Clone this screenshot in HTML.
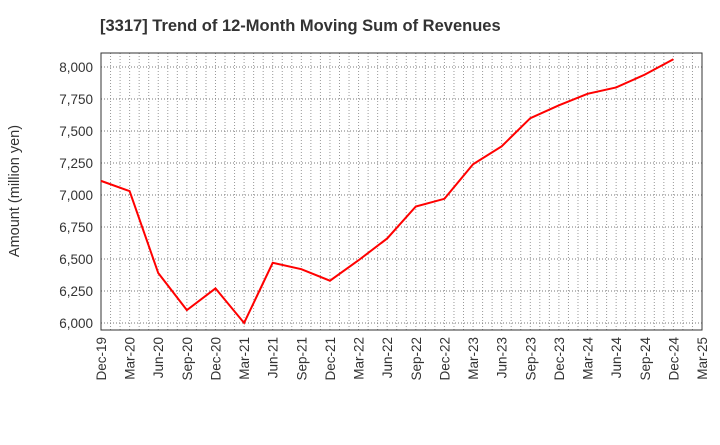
<!DOCTYPE html>
<html><head><meta charset="utf-8"><style>
body{margin:0;background:#fff;font-family:"Liberation Sans",sans-serif}
</style></head><body>
<svg id="c" width="720" height="440" xmlns="http://www.w3.org/2000/svg">
<text x="100" y="31" font-size="16.5" font-weight="bold" fill="#333">[3317]  Trend of 12-Month Moving Sum of Revenues</text>
<text transform="translate(19,191) rotate(-90)" text-anchor="middle" font-size="14.5" fill="#333">Amount (million yen)</text>
<g id="grid"></g><g id="axes"></g>
</svg>
<script>
const xLabels=["Dec-19","Mar-20","Jun-20","Sep-20","Dec-20","Mar-21","Jun-21","Sep-21","Dec-21","Mar-22","Jun-22","Sep-22","Dec-22","Mar-23","Jun-23","Sep-23","Dec-23","Mar-24","Jun-24","Sep-24","Dec-24","Mar-25"];
const yTicks=[6000,6250,6500,6750,7000,7250,7500,7750,8000];
const revenues=[7110,7030,6390,6100,6270,6000,6470,6420,6330,6490,6660,6910,6970,7240,7380,7600,7700,7790,7840,7940,8060];
const L=101,R=702,T=53,B=330,yMin=5945,yMax=8109;
const NS="http://www.w3.org/2000/svg";
const svg=document.getElementById('c'),grid=document.getElementById('grid'),axes=document.getElementById('axes');
const xs=i=>L+(R-L)*i/(xLabels.length-1);
const ys=v=>B-(v-yMin)/(yMax-yMin)*(B-T);
function mk(tag,at,p){const e=document.createElementNS(NS,tag);for(const k in at)e.setAttribute(k,at[k]);(p||svg).appendChild(e);return e;}
const months=(xLabels.length-1)*3;
for(let m=1;m<months;m++){const x=L+(R-L)*m/months;
const g=mk('line',{x1:x,x2:x,y1:T,y2:B,stroke:'#999','stroke-dasharray':'1,2','stroke-width':1},grid);

}
yTicks.forEach(v=>{const y=ys(v);
const g=mk('line',{x1:L,x2:R,y1:y,y2:y,stroke:'#777','stroke-dasharray':'1,2','stroke-width':1},grid);


const t=mk('text',{x:L-8,y:y+5,'text-anchor':'end','font-size':13.5,fill:'#333'},axes);t.textContent=v.toLocaleString('en-US');

});
xLabels.forEach((s,i)=>{const x=xs(i);
const t=mk('text',{transform:`translate(${x+5},${B+7}) rotate(-90)`,'text-anchor':'end','font-size':13.5,fill:'#333'},axes);t.textContent=s;

});
const box=mk('rect',{x:L,y:T,width:R-L,height:B-T,fill:'none',stroke:'#333','stroke-width':1},axes);


const ln=mk('polyline',{points:revenues.map((v,i)=>xs(i)+','+ys(v)).join(' '),fill:'none',stroke:'#f00','stroke-width':2});


</script>
</body></html>
